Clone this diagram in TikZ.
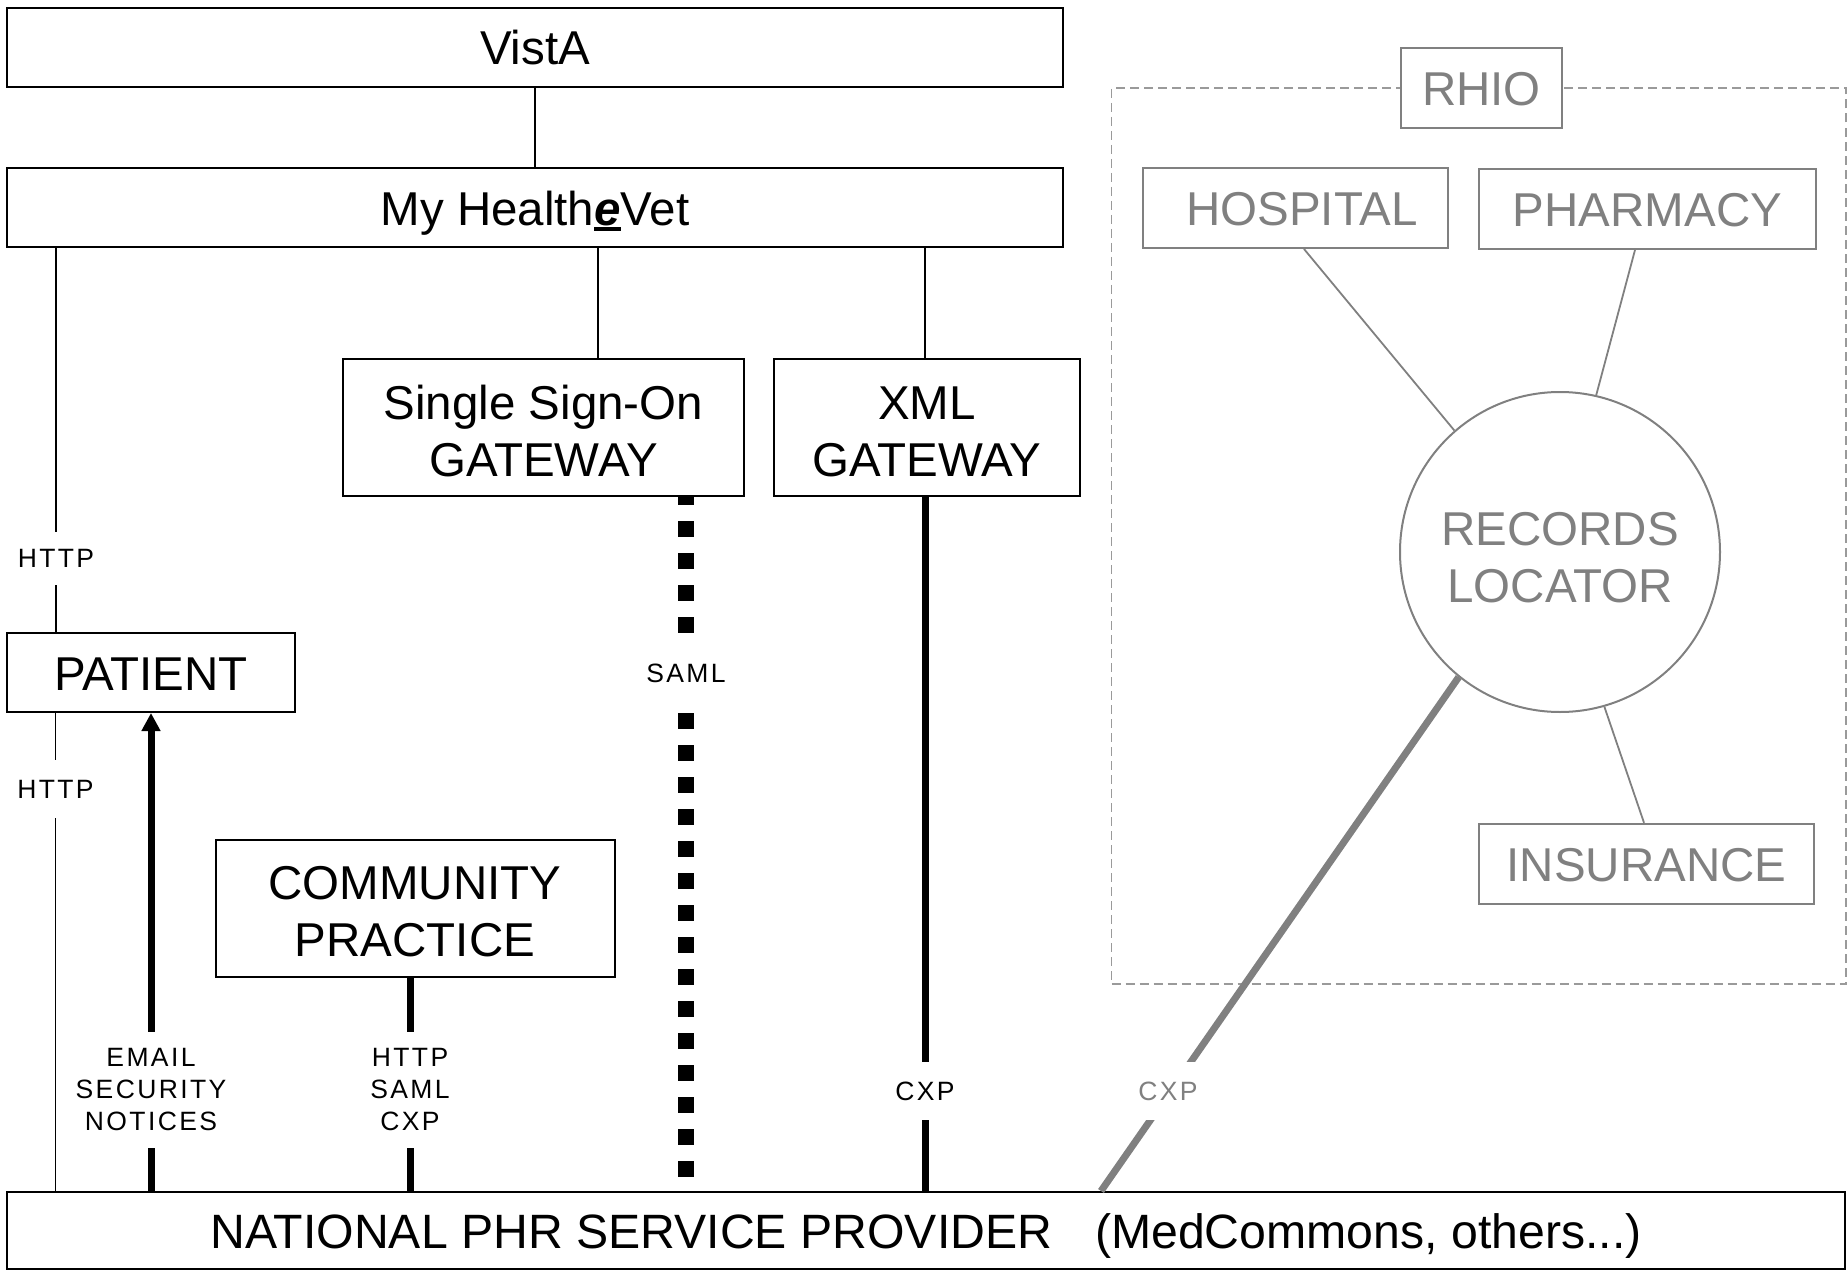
\documentclass[tikz,border=0pt]{standalone}
\usepackage{fontspec}
\setmainfont{Liberation Sans}
\usetikzlibrary{arrows.meta,calc}
\definecolor{rgray}{HTML}{808080}
\definecolor{dgray}{HTML}{9A9A9A}
\newcommand\bigfont{\fontsize{47.5}{57}\selectfont}
\newcommand\smallfont{\fontsize{26.5}{32}\selectfont\addfontfeature{LetterSpace=9}}
\newcommand\ulE{\sbox0{\bfseries\itshape e}\rlap{\rule[-6pt]{\wd0}{4pt}}\usebox0}
\begin{document}
\begin{tikzpicture}[x=1pt,y=-1pt,
  box/.style={draw, line width=2pt, inner sep=0pt, font=\bigfont, align=center},
  gbox/.style={box, draw=rgray, text=rgray},
  one/.style={text height=35pt, text depth=0pt},
  thinln/.style={line width=1.8pt},
  thickln/.style={line width=7pt},
  lbl/.style={fill=white, inner sep=0pt, font=\smallfont, align=center},
]
\useasboundingbox (0,0) rectangle (1848,1271);

% RHIO area
\node[draw=dgray, line width=1.5pt, dash pattern=on 9pt off 5pt, inner sep=0pt,
      minimum width=734.5pt, minimum height=896pt] (area) at (1478.75,536) {};

% main nodes
\node[box,one,minimum width=1056pt,minimum height=79pt] (vista) at (535,47.5) {VistA};
\node[box,one,minimum width=1056pt,minimum height=79pt] (mhv) at (535,207.5) {My Health\ulE Vet};
\node[box,text height=98.6pt,text depth=0pt,minimum width=401pt,minimum height=137pt] (sso) at (543.5,427.5) {Single Sign-On\\GATEWAY};
\node[box,text height=98pt,text depth=0pt,minimum width=306pt,minimum height=137pt] (xml) at (927,427.5) {XML\\GATEWAY};
\node[box,one,minimum width=288.5pt,minimum height=79pt] (pat) at (151,672.5) {PATIENT};
\node[box,text height=95.5pt,text depth=0pt,minimum width=399pt,minimum height=137pt] (com) at (415,908.5) {COMMUNITY\\PRACTICE};
\node[box,one,minimum width=1838pt,minimum height=77pt,font=\fontsize{48.2}{57}\selectfont] (nat) at (926,1230.5)
  {NATIONAL PHR SERVICE PROVIDER\hspace{43pt}(MedCommons, others...)};

% RHIO nodes
\node[gbox,one,fill=white,minimum width=161pt,minimum height=80pt] (rhio) at (1481.5,88) {RHIO};
\node[gbox,one,minimum width=305pt,minimum height=80pt] (hosp) at (1295.5,208) {\hspace*{13pt}HOSPITAL};
\node[gbox,one,minimum width=337pt,minimum height=80pt] (pharm) at (1647.5,209) {PHARMACY};
\node[gbox,one,minimum width=335pt,minimum height=80.5pt] (ins) at (1646.5,864) {INSURANCE};
\node[gbox,circle,text height=101.5pt,text depth=0pt,minimum size=320pt] (rl) at (1560,552) {RECORDS\\LOCATOR};

% connectors
\draw[thinln] (vista.south) -- (mhv.north);
\draw[thinln] ($(mhv.south)+(63,0)$) -- ($(sso.north)+(54.5,0)$);
\draw[thinln] ($(mhv.south)+(390,0)$) -- ($(xml.north)+(-2,0)$);
\draw[thinln] ($(mhv.south)+(-479,0)$) -- ($(pat.north)+(-95,0)$);
\draw[thinln] ($(pat.south)+(-95.5,0)$) -- ($(nat.north)+(-870.5,0)$);
\draw[thickln, -{Triangle[length=18pt,width=18pt]}] ($(nat.north)+(-775,0)$) -- (pat.south);
\draw[thickln] ($(com.south)+(-5,0)$) -- ($(nat.north)+(-516,0)$);
\draw[thickln] ($(xml.south)+(-2,0)$) -- ($(nat.north)+(-1,0)$);
\draw[line width=16pt, dash pattern=on 16pt off 16pt, dash phase=8pt]
  ($(sso.south)+(142.5,0)$) -- ($(nat.north)+(-240,0)$);
\draw[rgray, thickln] (rl.231) -- ($(nat.north)+(175,0)$);
\draw[rgray, thinln] ($(hosp.south)+(8.5,0)$) -- (rl.131);
\draw[rgray, thinln] ($(pharm.south)+(-12.5,0)$) -- (rl.77);
\draw[rgray, thinln] (rl.286) -- ($(ins.north)+(-2.5,0)$);

% labels
\node[lbl, minimum height=53pt] (h1) at (56,558) {HTTP};
\node[lbl, minimum height=58pt] (h2) at (55.5,789) {HTTP};
\node[lbl, minimum height=116pt] (email) at (151,1090) {EMAIL\\SECURITY\\NOTICES};
\node[lbl, minimum height=116pt] (hsc) at (410,1090) {HTTP\\SAML\\CXP};
\node[lbl, minimum height=72pt] (saml) at (686,673) {SAML};
\node[lbl, minimum height=58pt] (cxp1) at (925,1091) {CXP};
\node[lbl, minimum height=58pt, text=rgray] (cxp2) at (1168,1091) {CXP};
\end{tikzpicture}
\end{document}
